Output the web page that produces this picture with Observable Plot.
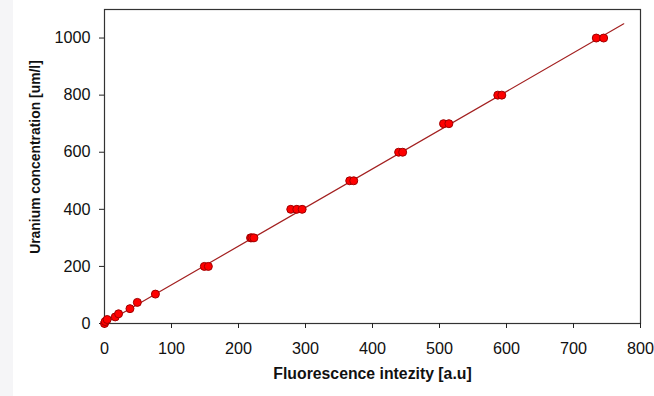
<!DOCTYPE html>
<html>
<head>
<meta charset="utf-8">
<script src="https://cdn.jsdelivr.net/npm/d3@7"></script>
<script src="https://cdn.jsdelivr.net/npm/@observablehq/plot@0.6"></script>
<style>
  html, body { margin: 0; padding: 0; }
  body { width: 654px; height: 396px; background: linear-gradient(to right, #f5f5f7 13px, #ffffff 13px); }
  #chart svg g[aria-label="x-axis tick label"] text,
  #chart svg g[aria-label="y-axis tick label"] text { font-size: 16.2px; }
</style>
</head>
<body>
<div id="chart"></div>
<script>
// Measured points: fluorescence intensity [a.u] vs uranium concentration [um/l]
const fluorescence = [0, 1, 4, 16, 21, 38, 49, 76, 149, 155, 218, 220, 223, 278, 287, 295, 366, 372, 439, 445, 506, 514, 587, 593, 734, 745];
const concentration = [0, 7, 14, 23, 34, 52, 74, 103, 200, 200, 300, 300, 300, 400, 400, 400, 500, 500, 600, 600, 700, 700, 800, 800, 1000, 1000];
// Calibration line endpoints
const fitX = [0, 775];
const fitY = [0, 1050];
const xTicks = [0, 100, 200, 300, 400, 500, 600, 700, 800];
const yTicks = [0, 200, 400, 600, 800, 1000];
const xTitle = "Fluorescence intezity [a.u]";
const yTitle = "Uranium concentration [um/l]";

const points = fluorescence.map((x, i) => ({x, y: concentration[i]}));
const fit = fitX.map((x, i) => ({x, y: fitY[i]}));

const chart = Plot.plot({
  width: 654,
  height: 396,
  marginLeft: 104,
  marginRight: 14,
  marginTop: 9,
  marginBottom: 73,
  style: {background: "transparent", fontFamily: "'Liberation Sans', Arial, sans-serif", fontSize: "16.2px", color: "#111"},
  x: {domain: [0, 800]},
  y: {domain: [0, 1100]},
  marks: [
    Plot.frame({stroke: "#333", strokeWidth: 1.2}),
    Plot.axisX({ticks: xTicks, tickFormat: d => String(d), tickSize: 5, tickPadding: 14, fontSize: 16.2, label: null, stroke: "#222"}),
    Plot.axisY({ticks: yTicks, tickFormat: d => String(d), tickSize: 5, tickPadding: 9, fontSize: 16.2, label: null, stroke: "#222"}),
    Plot.line(fit, {x: "x", y: "y", stroke: "#a32020", strokeWidth: 1.2}),
    Plot.dot(points, {x: "x", y: "y", r: 4, fill: "#ff0000", stroke: "#a00000", strokeWidth: 1}),
    Plot.text([xTitle], {frameAnchor: "bottom", dy: 55, fontWeight: "bold", fontSize: 15.8, fill: "#111"}),
    Plot.text([yTitle], {frameAnchor: "left", textAnchor: "middle", dx: -69, dy: -9.5, rotate: -90, fontWeight: "bold", fontSize: 13.9, fill: "#111"})
  ]
});
document.getElementById("chart").appendChild(chart);
</script>
</body>
</html>
